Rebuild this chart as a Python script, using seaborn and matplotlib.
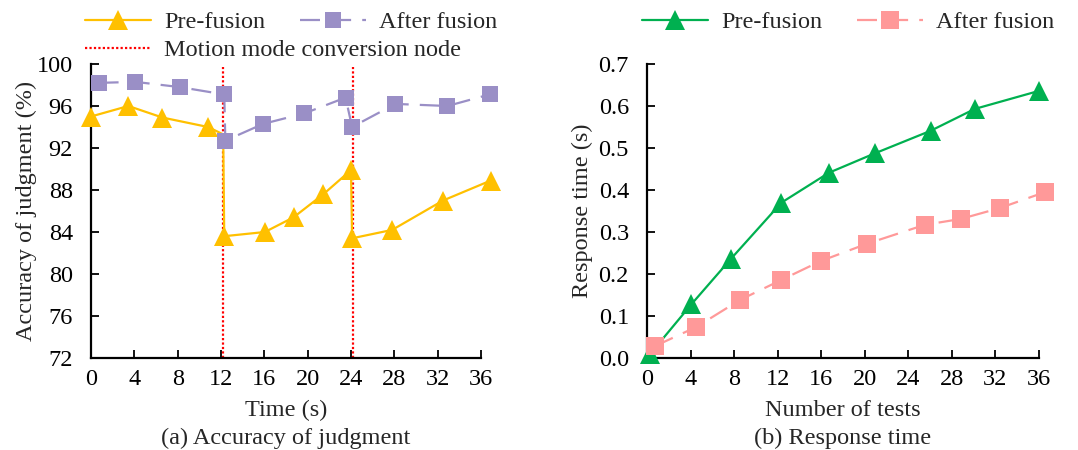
import numpy as np
import pandas as pd
import matplotlib
matplotlib.use("Agg")
import matplotlib.pyplot as plt
from matplotlib import font_manager
from matplotlib.lines import Line2D
import seaborn as sns

# ---------------- data ----------------
# (a) Accuracy of judgment
acc_pre_t = [0.0, 3.45, 6.6, 10.8, 12.2, 12.3, 16.05, 18.7, 21.45, 24.0, 24.1, 27.8, 32.5, 36.9]
acc_pre_v = [95.0, 96.0, 94.9, 94.0, 93.3, 83.6, 84.0, 85.4, 87.6, 89.9, 83.4, 84.2, 87.0, 88.9]
acc_pre_marker = [True, True, True, True, False, True, True, True, True, True, True, True, True, True]
acc_after_t = [0.7, 4.07, 8.2, 12.3, 12.4, 15.9, 19.7, 23.5, 24.1, 28.1, 32.9, 36.8]
acc_after_v = [98.2, 98.3, 97.8, 97.1, 92.7, 94.3, 95.3, 96.8, 94.0, 96.2, 96.0, 97.1]
conversion_nodes = [12.2, 24.2]

# (b) Response time
rt_pre_n = [0.3, 4.08, 7.67, 12.35, 16.7, 20.9, 26.05, 30.1, 36.0]
rt_pre_v = [0.01, 0.128, 0.235, 0.37, 0.441, 0.487, 0.541, 0.593, 0.636]
rt_after_n = [0.7, 4.54, 8.52, 12.35, 15.97, 20.2, 25.5, 28.8, 32.4, 36.55]
rt_after_v = [0.028, 0.074, 0.138, 0.186, 0.231, 0.272, 0.317, 0.331, 0.357, 0.395]

x_ticks = [0, 4, 8, 12, 16, 20, 24, 28, 32, 36]
acc_yticks = [72, 76, 80, 84, 88, 92, 96, 100]
rt_yticks = [0.0, 0.1, 0.2, 0.3, 0.4, 0.5, 0.6, 0.7]

labels = ["Pre-fusion", "After fusion", "Motion mode conversion node"]

# ---------------- style ----------------
sns.set_style("ticks")
available = {f.name for f in font_manager.fontManager.ttflist}
serif = [n for n in ["Liberation Serif", "Times New Roman", "Nimbus Roman",
                     "TeX Gyre Termes", "STIXGeneral"] if n in available]
plt.rcParams["font.family"] = serif + ["DejaVu Serif"]
plt.rcParams["mathtext.fontset"] = "stix"
FS = 17.5

YELLOW = "#FFC000"
PURPLE = "#9A8FC6"
GREEN = "#00B050"
PINK = "#FF9999"
RED = "#FF0000"

TRI_L, SQ_L, TRI_R, SQ_R = 14.5, 12, 15, 13

fig = plt.figure(figsize=(10.78, 4.5), dpi=100)
axL = fig.add_axes([91 / 1078, 1 - 358 / 450, (481 - 91) / 1078, (358 - 64) / 450])
axR = fig.add_axes([647 / 1078, 1 - 358 / 450, (1039 - 647) / 1078, (358 - 64) / 450])

# ---------------- left panel ----------------
df_pre = pd.DataFrame({"t": acc_pre_t, "v": acc_pre_v})
df_after = pd.DataFrame({"t": acc_after_t, "v": acc_after_v})

sns.lineplot(data=df_pre, x="t", y="v", sort=False, color=YELLOW, lw=1.6,
             ax=axL, legend=False, zorder=3)
mk_idx = [i for i, m in enumerate(acc_pre_marker) if m]
axL.lines[-1].set_marker("^")
axL.lines[-1].set_markevery(mk_idx)
axL.lines[-1].set_markersize(TRI_L)
axL.lines[-1].set_markeredgewidth(0)
axL.lines[-1].set_clip_on(False)

sns.lineplot(data=df_after, x="t", y="v", sort=False, color=PURPLE, lw=1.6,
             marker="s", markersize=SQ_L, markeredgewidth=0, ax=axL,
             legend=False, zorder=4)
axL.lines[-1].set_dashes((9, 5))
axL.lines[-1].set_clip_on(False)

axL.vlines(conversion_nodes, 72, 99.7, colors=RED, linestyles=(0, (1.0, 1.0)),
           lw=1.6, zorder=2)

axL.set_xlim(0, 36)
axL.set_ylim(72, 100)
axL.set_xticks(x_ticks)
axL.set_yticks(acc_yticks)
axL.set_xlabel("Time (s)", fontsize=FS, labelpad=7)
axL.set_ylabel("Accuracy of judgment (%)", fontsize=FS, labelpad=0)

# ---------------- right panel ----------------
df_rp = pd.DataFrame({"n": rt_pre_n, "v": rt_pre_v})
df_ra = pd.DataFrame({"n": rt_after_n, "v": rt_after_v})
sns.lineplot(data=df_rp, x="n", y="v", sort=False, color=GREEN, lw=1.6,
             marker="^", markersize=TRI_R, markeredgewidth=0, ax=axR, legend=False, zorder=3)
axR.lines[-1].set_clip_on(False)
sns.lineplot(data=df_ra, x="n", y="v", sort=False, color=PINK, lw=1.6,
             marker="s", markersize=SQ_R, markeredgewidth=0, ax=axR, legend=False, zorder=4)
axR.lines[-1].set_dashes((9, 5))
axR.lines[-1].set_clip_on(False)

axR.set_xlim(0, 36)
axR.set_ylim(0, 0.7)
axR.set_xticks(x_ticks)
axR.set_yticks(rt_yticks)
axR.set_yticklabels([f"{v:.1f}" for v in rt_yticks])
axR.set_xlabel("Number of tests", fontsize=FS, labelpad=7)
axR.set_ylabel("Response time (s)", fontsize=FS, labelpad=4)

for ax in (axL, axR):
    sns.despine(ax=ax)
    ax.tick_params(direction="in", length=6, width=1.3, labelsize=FS, colors="black")
    ax.tick_params(axis="x", pad=8)
    ax.tick_params(axis="y", pad=13)
    for s in ("left", "bottom"):
        ax.spines[s].set_linewidth(1.6)
        ax.spines[s].set_color("black")

# ---------------- legends ----------------
leg_kw = dict(frameon=False, fontsize=FS, loc="center left",
              handlelength=2.7, columnspacing=1.45, handletextpad=0.55)
hL = [Line2D([], [], color=YELLOW, lw=1.6, marker="^", markersize=TRI_L, markeredgewidth=0),
      Line2D([], [], color=PURPLE, lw=1.6, marker="s", markersize=SQ_L, markeredgewidth=0,
             dashes=(9, 5))]
fig.legend(hL, labels[:2], ncol=2, bbox_to_anchor=(63 / 1078, 1 - 22 / 450), **leg_kw)
hM = [Line2D([], [], color=RED, lw=1.6, linestyle=(0, (1.0, 1.0)))]
fig.legend(hM, labels[2:], bbox_to_anchor=(63 / 1078, 1 - 50 / 450), **leg_kw)

hR = [Line2D([], [], color=GREEN, lw=1.6, marker="^", markersize=TRI_R, markeredgewidth=0),
      Line2D([], [], color=PINK, lw=1.6, marker="s", markersize=SQ_R, markeredgewidth=0,
             dashes=(9, 5))]
fig.legend(hR, labels[:2], ncol=2, bbox_to_anchor=(620 / 1078, 1 - 22 / 450), **leg_kw)

fig.text((91 + 481) / 2 / 1078, 1 - 438 / 450, "(a) Accuracy of judgment",
         ha="center", va="center", fontsize=FS)
fig.text((647 + 1039) / 2 / 1078, 1 - 438 / 450, "(b) Response time",
         ha="center", va="center", fontsize=FS)

fig.savefig("out.png", dpi=100)
